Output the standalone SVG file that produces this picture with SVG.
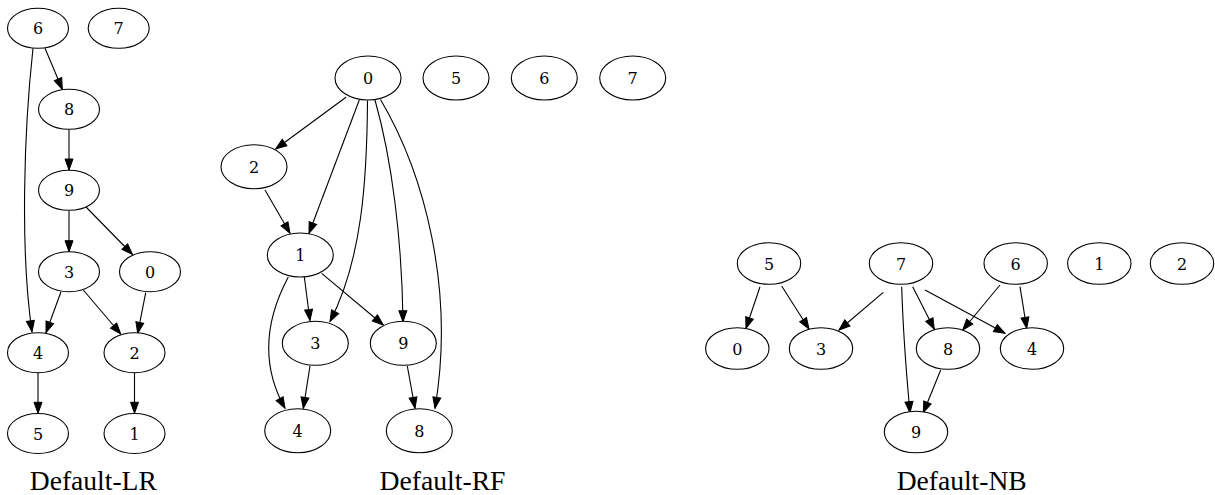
<svg xmlns="http://www.w3.org/2000/svg" width="1215" height="495" viewBox="0 0 1215 495">
<style>
.n ellipse{fill:#fff;stroke:#000;stroke-width:1.1}
.n text{font-family:"DejaVu Serif","Liberation Serif",serif;font-size:16px;text-anchor:middle;fill:#000}
.e path{fill:none;stroke:#000;stroke-width:1.1;marker-end:url(#ah)}
.lbl{font-family:"Liberation Serif","DejaVu Serif",serif;font-size:28px;text-anchor:middle;fill:#000}
</style>
<defs>
<marker id="ah" markerUnits="userSpaceOnUse" markerWidth="12" markerHeight="10" refX="11" refY="4" orient="auto" overflow="visible">
<path d="M0,0 L11,4 L0,8 z" fill="#000" stroke="#000" stroke-width="1"/>
</marker>
</defs>
<rect width="1215" height="495" fill="#fff"/>

<g id="edges-LR" class="e">
<path d="M45,48.3 L62.3,89.3"/>
<path d="M33,48.3 C24,130 20,250 32,331.7"/>
<path d="M69,129.3 L69,170"/>
<path d="M69,211 L69,251.7"/>
<path d="M86,207 L132.5,254.5"/>
<path d="M61,291.7 L46,332.7"/>
<path d="M83.3,290 L120.7,334"/>
<path d="M145.7,292.7 L137.7,333.3"/>
<path d="M38,373 L38,413.3"/>
<path d="M134.5,373 L134.5,413.3"/>
</g>
<g id="LR-6" class="n"><ellipse cx="38" cy="28.3" rx="30.5" ry="20"/><text x="38" y="34.3">6</text></g>
<g id="LR-7" class="n"><ellipse cx="118.7" cy="28.3" rx="30.5" ry="20"/><text x="118.7" y="34.3">7</text></g>
<g id="LR-8" class="n"><ellipse cx="69" cy="109.3" rx="30.5" ry="20"/><text x="69" y="115.3">8</text></g>
<g id="LR-9" class="n"><ellipse cx="69" cy="190.3" rx="30.5" ry="20"/><text x="69" y="196.3">9</text></g>
<g id="LR-3" class="n"><ellipse cx="69" cy="271.7" rx="30.5" ry="20"/><text x="69" y="277.7">3</text></g>
<g id="LR-0" class="n"><ellipse cx="150" cy="271.7" rx="30.5" ry="20"/><text x="150" y="277.7">0</text></g>
<g id="LR-4" class="n"><ellipse cx="38" cy="352.7" rx="30.5" ry="20"/><text x="38" y="358.7">4</text></g>
<g id="LR-2" class="n"><ellipse cx="134.5" cy="352.7" rx="30.5" ry="20"/><text x="134.5" y="358.7">2</text></g>
<g id="LR-5" class="n"><ellipse cx="38" cy="433.5" rx="30.5" ry="20"/><text x="38" y="439.5">5</text></g>
<g id="LR-1" class="n"><ellipse cx="134.5" cy="433.5" rx="30.5" ry="20"/><text x="134.5" y="439.5">1</text></g>
<text class="lbl" x="93.3" y="490" textLength="127" lengthAdjust="spacingAndGlyphs">Default-LR</text>

<g id="edges-RF" class="e">
<path d="M346,97.3 L275.7,149"/>
<path d="M359.3,100 L309,233.3"/>
<path d="M265,190 L290,233.3"/>
<path d="M367.5,100.5 C367,180 362,260 330,321.5"/>
<path d="M375,100 C392,160 402,240 403,321.7"/>
<path d="M380.5,99.5 C425,175 455,290 435,408.3"/>
<path d="M304.3,277 L310,320.5"/>
<path d="M321.7,273.3 L383.3,325"/>
<path d="M288.3,277 C268,315 258,360 285,408.3"/>
<path d="M310,366 L303.3,408.3"/>
<path d="M407.3,366 L415,408.3"/>
</g>
<g id="RF-0" class="n"><ellipse cx="368" cy="78" rx="33" ry="22"/><text x="368" y="84">0</text></g>
<g id="RF-5" class="n"><ellipse cx="456" cy="78" rx="33" ry="22"/><text x="456" y="84">5</text></g>
<g id="RF-6" class="n"><ellipse cx="544.3" cy="78" rx="33" ry="22"/><text x="544.3" y="84">6</text></g>
<g id="RF-7" class="n"><ellipse cx="632.7" cy="78" rx="33" ry="22"/><text x="632.7" y="84">7</text></g>
<g id="RF-2" class="n"><ellipse cx="254" cy="166.7" rx="33" ry="22"/><text x="254" y="172.7">2</text></g>
<g id="RF-1" class="n"><ellipse cx="300.3" cy="255" rx="33" ry="22"/><text x="300.3" y="261">1</text></g>
<g id="RF-3" class="n"><ellipse cx="315.3" cy="343.3" rx="33" ry="22"/><text x="315.3" y="349.3">3</text></g>
<g id="RF-9" class="n"><ellipse cx="403.3" cy="343.3" rx="33" ry="22"/><text x="403.3" y="349.3">9</text></g>
<g id="RF-4" class="n"><ellipse cx="297.7" cy="430.7" rx="33" ry="22"/><text x="297.7" y="436.7">4</text></g>
<g id="RF-8" class="n"><ellipse cx="419.3" cy="430.7" rx="33" ry="22"/><text x="419.3" y="436.7">8</text></g>
<text class="lbl" x="442.5" y="490" textLength="126" lengthAdjust="spacingAndGlyphs">Default-RF</text>

<g id="edges-NB" class="e">
<path d="M760,286.7 L746,328.3"/>
<path d="M781.7,286 L809,329"/>
<path d="M883.3,292.3 L839,330"/>
<path d="M901.7,286.7 C903,330 906,370 910,412.7"/>
<path d="M912.7,286.7 L934.3,329.3"/>
<path d="M925,290 L1005,333.3"/>
<path d="M1000,285 L962.7,330"/>
<path d="M1020,286.7 L1026.7,328.3"/>
<path d="M940.7,370 L923.3,412.7"/>
</g>
<g id="NB-5" class="n"><ellipse cx="769" cy="263.5" rx="31.7" ry="20.8"/><text x="769" y="269.5">5</text></g>
<g id="NB-7" class="n"><ellipse cx="901" cy="263.5" rx="31.7" ry="20.8"/><text x="901" y="269.5">7</text></g>
<g id="NB-6" class="n"><ellipse cx="1015.7" cy="263.5" rx="31.7" ry="20.8"/><text x="1015.7" y="269.5">6</text></g>
<g id="NB-1" class="n"><ellipse cx="1099.3" cy="263.5" rx="31.7" ry="20.8"/><text x="1099.3" y="269.5">1</text></g>
<g id="NB-2" class="n"><ellipse cx="1182" cy="263.5" rx="31.7" ry="20.8"/><text x="1182" y="269.5">2</text></g>
<g id="NB-0" class="n"><ellipse cx="737.3" cy="348.5" rx="31.7" ry="20.8"/><text x="737.3" y="354.5">0</text></g>
<g id="NB-3" class="n"><ellipse cx="821" cy="348.5" rx="31.7" ry="20.8"/><text x="821" y="354.5">3</text></g>
<g id="NB-8" class="n"><ellipse cx="948" cy="348.5" rx="31.7" ry="20.8"/><text x="948" y="354.5">8</text></g>
<g id="NB-4" class="n"><ellipse cx="1032" cy="348.5" rx="31.7" ry="20.8"/><text x="1032" y="354.5">4</text></g>
<g id="NB-9" class="n"><ellipse cx="916" cy="432" rx="31.7" ry="20.8"/><text x="916" y="438">9</text></g>
<text class="lbl" x="961.7" y="490" textLength="130" lengthAdjust="spacingAndGlyphs">Default-NB</text>
</svg>
